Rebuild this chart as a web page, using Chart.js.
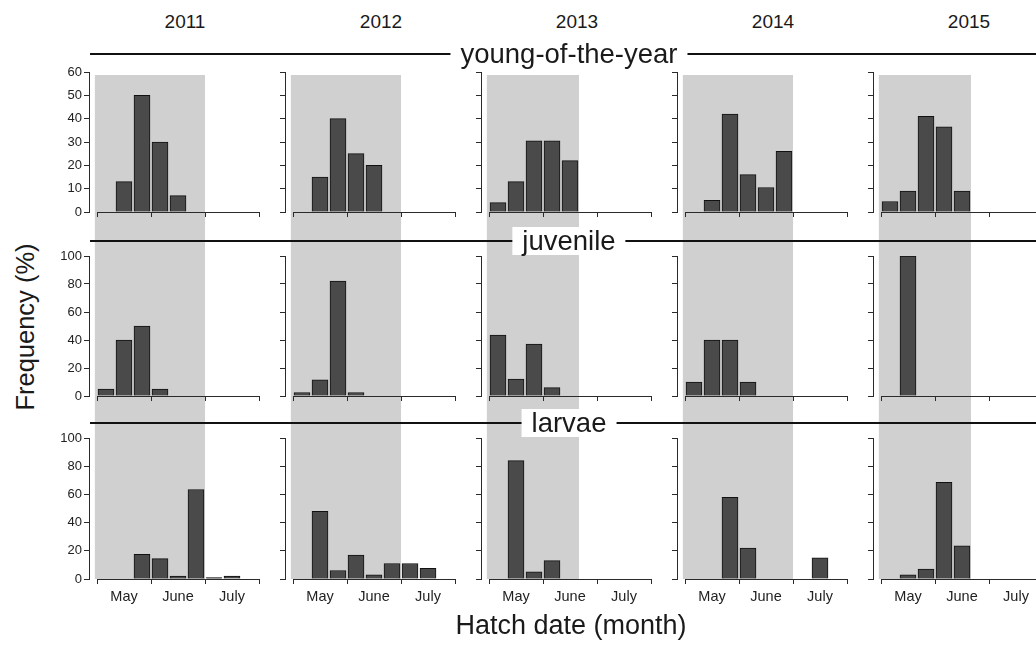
<!DOCTYPE html>
<html>
<head>
<meta charset="utf-8">
<script src="https://cdn.jsdelivr.net/npm/chart.js@4.4.0/dist/chart.umd.min.js"></script>
<style>
  body { margin: 0; background: #fff; overflow: hidden; font-family: "Liberation Sans", Arial, sans-serif; color: #1a1a1a; }
  #fig { position: relative; width: 1036px; height: 645px; overflow: hidden; }
  canvas { position: absolute; }
  .year { position: absolute; top: 11px; width: 100px; margin-left: -50px; text-align: center; font-size: 19px; }
  .stage-line { position: absolute; left: 90px; width: 946px; height: 0; border-top: 2px solid #111; z-index: 5; }
  .stage { position: absolute; left: 569px; transform: translate(-50%, -50%); background: #fff; padding: 0 10px; font-size: 27.5px; line-height: 28px; z-index: 6; white-space: nowrap; }
  .ytitle { position: absolute; left: 25px; top: 327px; transform: translate(-50%, -50%) rotate(-90deg); font-size: 25.5px; white-space: nowrap; }
  .xtitle { position: absolute; left: 571px; top: 625px; transform: translate(-50%, -50%); font-size: 27px; white-space: nowrap; }
</style>
</head>
<body>
<div id="fig"></div>
<script>
const years = ['2011', '2012', '2013', '2014', '2015'];
const stages = ['young-of-the-year', 'juvenile', 'larvae'];
const months = ['May', 'June', 'July'];
const binsPerMonth = 3;
// last bin of the grey window, per year
const seasonBins = [6, 6, 5, 6, 5];

// frequency (%) per ~10 day bin, May..July
const youngData = [
  [0, 13, 50, 30, 7, 0, 0, 0, 0],
  [0, 15, 40, 25, 20, 0, 0, 0, 0],
  [4, 13, 30.5, 30.5, 22, 0, 0, 0, 0],
  [0, 5, 42, 16, 10.5, 26, 0, 0, 0],
  [4.5, 9, 41, 36.5, 9, 0, 0, 0, 0]
];
const juvenileData = [
  [5, 40, 50, 5, 0, 0, 0, 0, 0],
  [2.5, 11.5, 82, 2.5, 0, 0, 0, 0, 0],
  [43.5, 12, 37, 6, 0, 0, 0, 0, 0],
  [10, 40, 40, 10, 0, 0, 0, 0, 0],
  [0, 100, 0, 0, 0, 0, 0, 0, 0]
];
const larvaeData = [
  [0, 0, 17.5, 14.5, 2, 63.5, 1, 2, 0],
  [0, 48, 6, 17, 3, 11, 11, 7.5, 0],
  [0, 84, 5, 13, 0, 0, 0, 0, 0],
  [0, 0, 58, 22, 0, 0, 0, 15, 0],
  [0, 3, 7, 68.5, 23.5, 0, 0, 0, 0]
];
const yMax = [60, 100, 100];
const yStep = [10, 20, 20];

const rowData = [youngData, juvenileData, larvaeData];
const nBins = months.length * binsPerMonth;

// layout
const colX = c => 89 + 196 * c;        // y axis position
const rows = [
  { top: 60, pad: 12, plot: 140, axis: 20 },
  { top: 232, pad: 24, plot: 140, axis: 20 },
  { top: 416, pad: 22, plot: 141, axis: 6, labels: 26 }
];
const gapBins = 8 / 18;
const tickFont = { family: '"Liberation Sans", Arial, sans-serif', size: 13 };
const ink = '#2a2a2a';

const fig = document.getElementById('fig');

const panelPlugin = {
  id: 'panel',
  beforeDraw(chart) {
    const o = chart.options.plugins.panel;
    const x = chart.scales.x, ca = chart.chartArea, ctx = chart.ctx;
    const x1 = x.getPixelForValue(-0.12), x2 = x.getPixelForValue(o.season);
    const top = o.row === 0 ? ca.top + 3 : 0;
    const bottom = o.row === 2 ? ca.bottom : chart.height;
    ctx.save();
    ctx.fillStyle = '#d0d0d0';
    ctx.fillRect(x1, top, x2 - x1, bottom - top);
    ctx.restore();
  },
  afterDatasetsDraw(chart) {
    const x = chart.scales.x, ca = chart.chartArea, ctx = chart.ctx;
    ctx.save();
    ctx.strokeStyle = ink;
    ctx.lineWidth = 1;
    ctx.beginPath();
    ctx.moveTo(x.getPixelForValue(0), ca.bottom + 0.5);
    ctx.lineTo(x.getPixelForValue(nBins), ca.bottom + 0.5);
    ctx.stroke();
    ctx.restore();
  }
};

rows.forEach((row, r) => {
  years.forEach((yr, c) => {
    const cv = document.createElement('canvas');
    const h = row.pad + row.plot + row.axis + (row.labels || 0);
    cv.width = 212;
    cv.height = h;
    cv.style.left = (colX(c) - 40) + 'px';
    cv.style.top = row.top + 'px';
    fig.appendChild(cv);

    const vals = rowData[r][c];
    const scales = {
      x: {
        type: 'linear', min: -gapBins, max: nBins, offset: false,
        grid: { offset: false, drawOnChartArea: false, tickLength: 5, color: ink },
        border: { display: false },
        ticks: { display: false },
        afterBuildTicks: s => { s.ticks = [0, 1, 2, 3].map(i => ({ value: i * binsPerMonth })); },
        afterFit: s => { s.height = row.axis; }
      },
      y: {
        min: 0, max: yMax[r],
        grid: { drawOnChartArea: false, tickLength: 5, color: ink },
        border: { display: true, color: ink, width: 1 },
        ticks: { display: c === 0, stepSize: yStep[r], padding: 2, color: '#222', font: tickFont },
        afterFit: s => { s.width = 40; }
      }
    };
    if (row.labels) {
      scales.xm = {
        type: 'linear', position: 'bottom', weight: 1, min: -gapBins, max: nBins, offset: false,
        grid: { display: false, drawTicks: false },
        border: { display: false },
        ticks: {
          autoSkip: false, maxRotation: 0, padding: 3, color: '#222',
          font: { family: tickFont.family, size: 14.5 },
          callback: (v, i) => months[i]
        },
        afterBuildTicks: s => { s.ticks = months.map((m, i) => ({ value: i * binsPerMonth + binsPerMonth / 2 })); },
        afterFit: s => { s.height = row.labels; }
      };
    }

    new Chart(cv, {
      type: 'bar',
      data: {
        datasets: [{
          label: stages[r] + ' ' + yr,
          data: vals.map((v, i) => ({ x: i + 0.5, y: v })).filter(p => p.y > 0),
          backgroundColor: '#4a4a4a',
          borderColor: '#111',
          borderWidth: 1,
          barThickness: 16
        }]
      },
      options: {
        responsive: false,
        animation: false,
        devicePixelRatio: 1,
        layout: { padding: { top: row.pad, right: 2, left: 0, bottom: 0 } },
        plugins: {
          legend: { display: false },
          tooltip: { enabled: false },
          panel: { row: r, season: seasonBins[c] }
        },
        scales: scales
      },
      plugins: [panelPlugin]
    });
  });
});

// year headers
years.forEach((yr, c) => {
  const d = document.createElement('div');
  d.className = 'year';
  d.style.left = (colX(c) + 96) + 'px';
  d.textContent = yr;
  fig.appendChild(d);
});

// stage separators
const stageY = [54, 241, 423];
stages.forEach((s, r) => {
  const line = document.createElement('div');
  line.className = 'stage-line';
  line.style.top = (stageY[r] - 1) + 'px';
  fig.appendChild(line);
  const lab = document.createElement('div');
  lab.className = 'stage';
  lab.style.top = stageY[r] + 'px';
  lab.textContent = s;
  fig.appendChild(lab);
});

const yt = document.createElement('div');
yt.className = 'ytitle';
yt.textContent = 'Frequency (%)';
fig.appendChild(yt);
const xt = document.createElement('div');
xt.className = 'xtitle';
xt.textContent = 'Hatch date (month)';
fig.appendChild(xt);
</script>
</body>
</html>
